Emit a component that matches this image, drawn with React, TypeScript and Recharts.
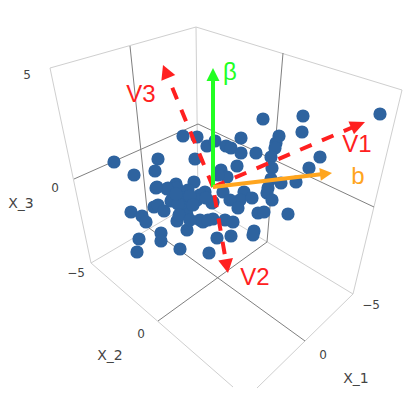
import { Scatter, ScatterChart, XAxis, YAxis } from 'recharts';

// Projected scene coordinates (the 3D scene is flat here)
const dotX = [
  183, 197, 114, 134, 158, 155, 195, 207, 157, 194, 176, 168, 263, 303, 380, 302, 279, 276, 275, 271,
  241, 215, 226, 231, 241, 256, 320, 309, 237, 221, 227, 272, 271, 281, 296, 268, 267, 272, 244, 240,
  252, 223, 230, 238, 213, 205, 218, 177, 188, 173, 183, 197, 200, 182, 188, 131, 142, 146, 154, 158,
  164, 139, 137, 161, 161, 180, 177, 187, 171, 183, 187, 197, 203, 213, 225, 233, 258, 264, 288, 254,
  253, 231, 217, 209, 200, 208, 167, 156, 212, 190, 178, 206, 179, 190, 193, 176,
];
const dotY = [
  136, 137, 162, 175, 159, 171, 159, 146, 187, 182, 184, 188, 119, 116, 114, 132, 136, 143, 148, 157,
  138, 141, 146, 148, 153, 153, 157, 168, 166, 170, 177, 168, 179, 183, 182, 188, 193, 200, 192, 200,
  198, 192, 200, 208, 202, 192, 175, 188, 190, 197, 198, 198, 195, 210, 207, 212, 216, 222, 207, 205,
  211, 239, 252, 233, 241, 249, 221, 230, 201, 210, 215, 200, 222, 219, 220, 222, 213, 212, 214, 231,
  235, 236, 238, 253, 220, 220, 189, 188, 203, 196, 204, 198, 215, 220, 205, 194,
];

const frameLines = [
  [[50, 68], [196, 27], [402, 90], [353, 294], [257, 388]],
  [[50, 68], [91, 263], [233, 387]],
  [[91, 263], [198, 200], [353, 294]],
  [[196, 27], [198, 200]],
];
const zeroLines = [
  [[74, 179], [198, 124], [374, 207]],
  [[130, 46], [149, 228], [305, 341]],
  [[283, 53], [267, 242], [158, 321]],
];

const origin = [213, 187];
const arrowNames = ['V1', 'V2', 'V3', 'beta', 'b'];
const arrowTips = [[365, 122], [228, 273], [163, 65], [213, 68], [332, 173]];

const tickLabels = ['5', '0', '\u22125', '0', '0', '\u22125'];
const tickX = [27, 55, 76, 141, 323, 371];
const tickY = [75, 188, 273, 334, 355, 305];
const axisTitles = ['X_3', 'X_2', 'X_1'];
const axisTitleX = [21, 110, 356];
const axisTitleY = [203, 355, 378];
const arrowLabels = ['V1', 'V2', 'V3', '\u03b2', 'b'];
const arrowLabelX = [357, 255, 141, 230, 358];
const arrowLabelY = [152, 285, 102, 80, 184];

const RED = '#ff2020';
const DASH = '12.5 11.2';
const arrowStyle: Record<string, { color: string; dash?: string; offset?: number; headLen: number; headWidth: number }> = {
  V1: { color: RED, dash: DASH, headLen: 15, headWidth: 14 },
  V2: { color: RED, dash: DASH, offset: 15.5, headLen: 14, headWidth: 15 },
  V3: { color: RED, dash: DASH, headLen: 14, headWidth: 15 },
  beta: { color: '#22ff22', headLen: 13, headWidth: 13 },
  b: { color: '#ffa51e', headLen: 12, headWidth: 13 },
};
const labelColors = [RED, RED, RED, '#22ff22', '#ffa51e'];

const toPoints = (line: number[][]) => line.map(([x, y]) => ({ x, y }));
const dots = dotX.map((x, i) => ({ x, y: dotY[i] }));
const ticks = tickLabels.map((text, i) => ({ x: tickX[i], y: tickY[i], text }));
const titles = axisTitles.map((text, i) => ({ x: axisTitleX[i], y: axisTitleY[i], text }));
const vectorLabels = arrowLabels.map((text, i) => ({ x: arrowLabelX[i], y: arrowLabelY[i], text, color: labelColors[i] }));

const Empty = () => null;

const Dot = ({ cx, cy }: any) => <circle cx={cx} cy={cy} r={6.6} fill='#2e639f' />;

const Label = ({ cx, cy, payload, size, family, fill, baseline }: any) => (
  <text
    x={cx}
    y={cy}
    fontSize={size}
    fontFamily={family}
    fill={payload.color ?? fill}
    textAnchor='middle'
    dominantBaseline={baseline}
  >
    {payload.text}
  </text>
);

// triangle pointing away from the origin, tip on the data point
const Head = ({ cx, cy, payload }: any) => {
  const s = arrowStyle[payload.name];
  const a = Math.atan2(payload.y - origin[1], payload.x - origin[0]);
  const deg = (a * 180) / Math.PI;
  const pts = `0,0 ${-s.headLen},${-s.headWidth / 2} ${-s.headLen},${s.headWidth / 2}`;
  return <polygon points={pts} fill={s.color} transform={`translate(${cx} ${cy}) rotate(${deg})`} />;
};

const shaftEnd = (name: string, tip: number[]) => {
  const s = arrowStyle[name];
  const dx = tip[0] - origin[0];
  const dy = tip[1] - origin[1];
  const k = 1 - (s.headLen - 1) / Math.hypot(dx, dy);
  return { x: origin[0] + dx * k, y: origin[1] + dy * k };
};

export default function App() {
  return (
    <div style={{ position: 'absolute', left: 0, top: 0 }}>
      <ScatterChart width={415} height={398} margin={{ top: 0, right: 0, bottom: 0, left: 0 }}>
        <XAxis type='number' dataKey='x' domain={[0, 415]} hide />
        <YAxis type='number' dataKey='y' domain={[0, 398]} reversed hide />
        {frameLines.map((line, i) => (
          <Scatter
            key={`frame-${i}`}
            data={toPoints(line)}
            line={{ stroke: '#cfcfcf', strokeWidth: 1 }}
            shape={Empty}
            isAnimationActive={false}
          />
        ))}
        {zeroLines.map((line, i) => (
          <Scatter
            key={`zero-${i}`}
            data={toPoints(line)}
            line={{ stroke: '#808080', strokeWidth: 1 }}
            shape={Empty}
            isAnimationActive={false}
          />
        ))}
        <Scatter data={dots} shape={Dot} isAnimationActive={false} />
        {arrowNames.map((name, i) => {
          const s = arrowStyle[name];
          return (
            <Scatter
              key={`shaft-${name}`}
              data={[{ x: origin[0], y: origin[1] }, shaftEnd(name, arrowTips[i])]}
              line={{ stroke: s.color, strokeWidth: 4, strokeDasharray: s.dash, strokeDashoffset: s.offset }}
              shape={Empty}
              isAnimationActive={false}
            />
          );
        })}
        <Scatter
          data={arrowNames.map((name, i) => ({ x: arrowTips[i][0], y: arrowTips[i][1], name }))}
          shape={Head}
          isAnimationActive={false}
        />
        <Scatter
          data={ticks}
          shape={(p: any) => <Label {...p} size={12} family="'DejaVu Sans', sans-serif" fill='#444' baseline='central' />}
          isAnimationActive={false}
        />
        <Scatter
          data={titles}
          shape={(p: any) => <Label {...p} size={14} family="'DejaVu Sans', sans-serif" fill='#444' baseline='central' />}
          isAnimationActive={false}
        />
        <Scatter
          data={vectorLabels}
          shape={(p: any) => <Label {...p} size={24} family="'Liberation Sans', Arial, sans-serif" />}
          isAnimationActive={false}
        />
      </ScatterChart>
    </div>
  );
}
